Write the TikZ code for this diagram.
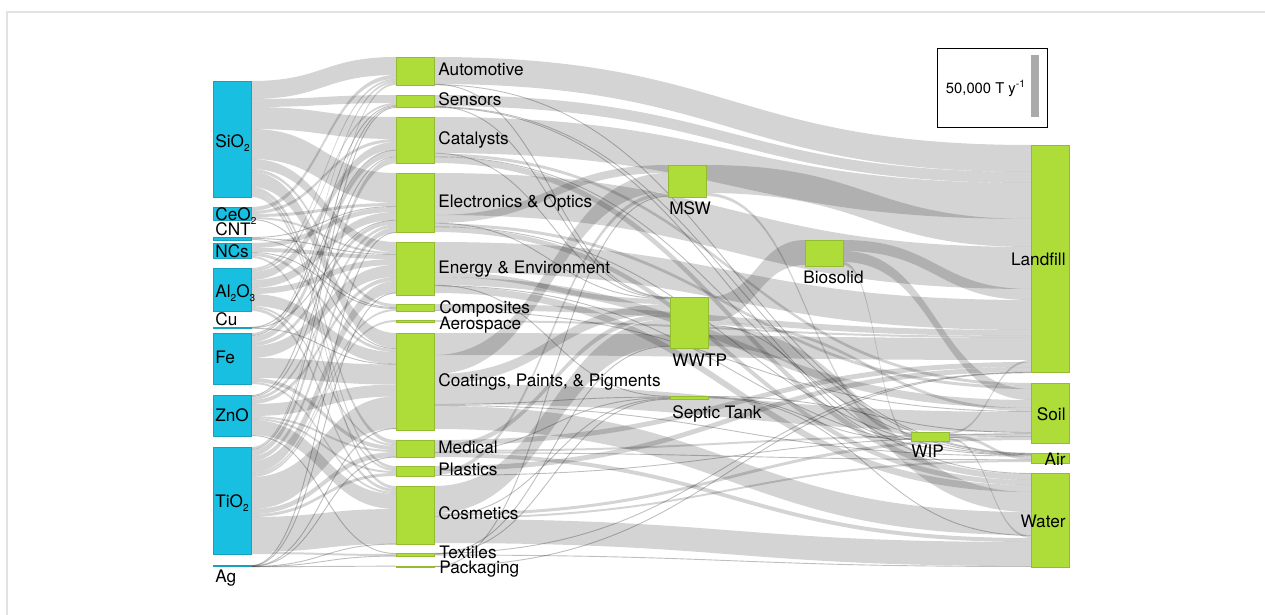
\documentclass[tikz,border=0pt]{standalone}
\usepackage{fontspec}
\setmainfont{TeX Gyre Heros}
\usetikzlibrary{positioning,calc}

\definecolor{matblue}{HTML}{19BFE0}
\definecolor{appgreen}{HTML}{AEDD3A}
\definecolor{scalegray}{HTML}{AAAAAA}
\definecolor{framegray}{HTML}{E2E2E2}

\pgfdeclarelayer{bg}
\pgfsetlayers{bg,main}

\tikzset{
  box/.style={rectangle, inner sep=0pt, outer sep=0pt, minimum width=19pt, anchor=north west, line width=0.3pt},
  mat/.style={box, fill=matblue, draw=matblue!85!black},
  app/.style={box, fill=appgreen, draw=appgreen!85!black},
  flow/.style={fill=black, fill opacity=0.17},
  thinflow/.style={draw=black, draw opacity=0.25, line width=0.45pt},
  lbl/.style={inner sep=0pt, font=\fontsize{8.6}{10}\selectfont, text height=1.5ex, text depth=0.1ex},
  applbl/.style={lbl, yshift=1.2pt},
}

% small low index, as in the chart
\newcommand\sub[1]{\raisebox{-0.45ex}{\fontsize{5}{6}\selectfont #1}}

% node: name, style, x, y, height (all in px)
\newcommand\mknode[5]{%
  \node[#2, minimum height=#5*0.5pt] (#1) at (#3,#4) {};
  \expandafter\gdef\csname o#1\endcsname{0}%
  \expandafter\gdef\csname i#1\endcsname{0}}

% band from node #1 to node #2, value #3
\newcommand\lnk[3]{%
  \edef\so{\csname o#1\endcsname}\edef\ti{\csname i#2\endcsname}%
  \coordinate (fa) at ($(#1.north east)+(0,\so)$);
  \coordinate (fb) at ($(#2.north west)+(0,\ti)$);
  \coordinate (fc) at ($(fb)+(0,#3)$);
  \coordinate (fd) at ($(fa)+(0,#3)$);
  \coordinate (fm) at ($(fa)!0.5!(fb)$);
  \begin{pgfonlayer}{bg}
    \fill[flow] (fa) .. controls (fm|-fa) and (fm|-fb) .. (fb) -- (fc)
      .. controls (fm|-fc) and (fm|-fd) .. (fd) -- cycle;
  \end{pgfonlayer}
  \pgfmathsetmacro\so{\so+#3}\pgfmathsetmacro\ti{\ti+#3}%
  \expandafter\xdef\csname o#1\endcsname{\so}%
  \expandafter\xdef\csname i#2\endcsname{\ti}}

% thin link drawn as a line
\newcommand\tln[3]{%
  \edef\so{\csname o#1\endcsname}\edef\ti{\csname i#2\endcsname}%
  \coordinate (fa) at ($(#1.north east)+(0,{\so+#3/2})$);
  \coordinate (fb) at ($(#2.north west)+(0,{\ti+#3/2})$);
  \coordinate (fm) at ($(fa)!0.5!(fb)$);
  \begin{pgfonlayer}{bg}
    \draw[thinflow] (fa) .. controls (fm|-fa) and (fm|-fb) .. (fb);
  \end{pgfonlayer}
  \pgfmathsetmacro\so{\so+#3}\pgfmathsetmacro\ti{\ti+#3}%
  \expandafter\xdef\csname o#1\endcsname{\so}%
  \expandafter\xdef\csname i#2\endcsname{\ti}}

\begin{document}
\begin{tikzpicture}[x=0.5pt,y=-0.5pt]
	\useasboundingbox (0,0) rectangle (1265,615);
	\draw[framegray, line width=1pt] (7,615) -- (7,12) -- (1265,12);

	% Materials
	\mknode{SiO2}{mat}{213}{81}{116}
	\mknode{CeO2}{mat}{213}{207}{13}
	\mknode{CNT}{mat}{213}{237}{3}
	\mknode{NCs}{mat}{213}{243}{15}
	\mknode{AlO}{mat}{213}{268}{43}
	\mknode{Cu}{mat}{213}{327}{1.5}
	\mknode{Fe}{mat}{213}{333}{51}
	\mknode{ZnO}{mat}{213}{395}{41}
	\mknode{TiO}{mat}{213}{447}{107}
	\mknode{Ag}{mat}{213}{565.5}{1}

	% Applications
	\mknode{auto}{app}{396}{57}{28}
	\mknode{sens}{app}{396}{95}{12}
	\mknode{cat}{app}{396}{117}{46}
	\mknode{elec}{app}{396}{173}{59}
	\mknode{ener}{app}{396}{242}{53}
	\mknode{comp}{app}{396}{304}{7}
	\mknode{aero}{app}{396}{320}{2}
	\mknode{coat}{app}{396}{333}{97}
	\mknode{med}{app}{396}{440}{17}
	\mknode{plas}{app}{396}{466}{10}
	\mknode{cosm}{app}{396}{486}{58}
	\mknode{text}{app}{396}{553}{3}
	\mknode{pack}{app}{396}{566}{1}

	% Treatment and sinks
	\mknode{msw}{app}{668}{165}{32}
	\mknode{wwtp}{app}{670}{297}{51}
	\mknode{septic}{app}{670}{396}{3}
	\mknode{bio}{app}{805}{240}{26}
	\mknode{wip}{app}{911}{432}{9}
	\mknode{landfill}{app}{1031}{145}{227}
	\mknode{soil}{app}{1031}{383}{60}
	\mknode{air}{app}{1031}{453}{10}
	\mknode{water}{app}{1031}{473}{94}

	% Materials to applications
	\lnk{SiO2}{auto}{18}\lnk{SiO2}{sens}{8}\lnk{SiO2}{cat}{22}\lnk{SiO2}{elec}{30}\lnk{SiO2}{ener}{10}
	\lnk{SiO2}{comp}{3}\lnk{SiO2}{coat}{15}\lnk{SiO2}{med}{4}\lnk{SiO2}{plas}{3}\lnk{SiO2}{cosm}{3}
	\lnk{CeO2}{auto}{4}\lnk{CeO2}{cat}{3}\lnk{CeO2}{elec}{3}\lnk{CeO2}{ener}{2}\tln{CeO2}{coat}{1}
	\tln{CNT}{elec}{1}\tln{CNT}{ener}{1}\tln{CNT}{comp}{1}
	\lnk{NCs}{elec}{5}\lnk{NCs}{ener}{4}\tln{NCs}{comp}{1}\lnk{NCs}{coat}{3}\lnk{NCs}{plas}{2}
	\lnk{AlO}{auto}{2}\lnk{AlO}{sens}{2}\lnk{AlO}{cat}{8}\lnk{AlO}{elec}{8}\lnk{AlO}{ener}{6}
	\lnk{AlO}{coat}{12}\lnk{AlO}{med}{2}\lnk{AlO}{cosm}{3}
	\tln{Cu}{cat}{0.5}\tln{Cu}{elec}{0.5}\tln{Cu}{coat}{0.5}
	\lnk{Fe}{auto}{2}\tln{Fe}{sens}{1}\lnk{Fe}{cat}{6}\lnk{Fe}{elec}{4}\lnk{Fe}{ener}{12}
	\lnk{Fe}{coat}{20}\lnk{Fe}{med}{4}\lnk{Fe}{cosm}{2}
	\tln{ZnO}{sens}{1}\tln{ZnO}{cat}{1}\lnk{ZnO}{elec}{3}\lnk{ZnO}{ener}{4}\lnk{ZnO}{coat}{12}
	\lnk{ZnO}{med}{2}\lnk{ZnO}{plas}{2}\lnk{ZnO}{cosm}{15}\tln{ZnO}{text}{1}
	\lnk{TiO}{auto}{2}\tln{TiO}{sens}{1}\lnk{TiO}{cat}{6}\lnk{TiO}{elec}{5}\lnk{TiO}{ener}{12}
	\lnk{TiO}{comp}{2}\lnk{TiO}{aero}{2}\lnk{TiO}{coat}{32}\lnk{TiO}{med}{5}\lnk{TiO}{plas}{3}
	\lnk{TiO}{cosm}{35}\lnk{TiO}{text}{2}
	\tln{Ag}{elec}{0.2}\tln{Ag}{ener}{0.2}\tln{Ag}{coat}{0.2}\tln{Ag}{med}{0.2}
	\tln{Ag}{cosm}{0.2}\tln{Ag}{text}{0.2}\tln{Ag}{pack}{0.2}

	% Applications and treatment to sinks
	\lnk{auto}{landfill}{27}\tln{auto}{wwtp}{0.5}\tln{auto}{air}{0.5}
	\lnk{sens}{landfill}{11}\tln{sens}{wwtp}{0.5}\tln{sens}{air}{0.5}\tln{sens}{water}{1}
	\lnk{cat}{landfill}{36}\tln{cat}{wwtp}{0.5}\lnk{cat}{soil}{3}\tln{cat}{air}{0.5}\lnk{cat}{water}{6}
	\lnk{msw}{landfill}{28}\lnk{msw}{wip}{3}
	\lnk{elec}{landfill}{42}\lnk{elec}{msw}{8}\tln{elec}{wwtp}{0.5}\lnk{elec}{soil}{3}
	\tln{elec}{air}{0.5}\lnk{elec}{water}{5}
	\lnk{bio}{landfill}{11}\lnk{bio}{soil}{11}\lnk{bio}{wip}{3}
	\lnk{ener}{landfill}{30}\lnk{ener}{wwtp}{5}\lnk{ener}{soil}{8}\tln{ener}{septic}{0.5}
	\tln{ener}{air}{0.5}\lnk{ener}{water}{7}
	\lnk{wwtp}{bio}{25}\lnk{wwtp}{soil}{3}\tln{wwtp}{wip}{1}\lnk{wwtp}{water}{20}
	\lnk{comp}{landfill}{6}\tln{comp}{soil}{1}
	\lnk{aero}{landfill}{2}
	\lnk{coat}{landfill}{22}\lnk{coat}{msw}{19}\lnk{coat}{wwtp}{10}\lnk{coat}{soil}{20}
	\tln{coat}{septic}{1}\tln{coat}{air}{1}\lnk{coat}{water}{23}
	\tln{septic}{soil}{1}\tln{septic}{wip}{0.5}\tln{septic}{water}{1}
	\lnk{wip}{landfill}{2}\tln{wip}{soil}{1}\lnk{wip}{air}{3}\lnk{wip}{water}{2}
	\lnk{med}{landfill}{5}\lnk{med}{wwtp}{5}\lnk{med}{soil}{2}\tln{med}{septic}{0.5}
	\tln{med}{air}{0.5}\lnk{med}{water}{4}
	\lnk{plas}{landfill}{5}\lnk{plas}{msw}{4}\tln{plas}{soil}{1}
	\lnk{cosm}{wwtp}{27}\lnk{cosm}{soil}{3}\tln{cosm}{septic}{1}\lnk{cosm}{air}{2}\lnk{cosm}{water}{24}
	\tln{text}{landfill}{0.5}\tln{text}{wwtp}{0.5}\tln{text}{septic}{0.5}\tln{text}{water}{1}
	\tln{pack}{landfill}{0.5}\tln{pack}{msw}{0.5}

	% Labels
	\node[lbl, anchor=west] (lSiO2) at (215,140) {SiO\sub{2}};
	\node[lbl, anchor=west] (lCeO2) at (215,213) {CeO\sub{2}};
	\node[lbl, anchor=west] (lCNT) at (215,228) {CNT};
	\node[lbl, anchor=west] (lNCs) at (215,250) {NCs};
	\node[lbl, anchor=west] (lAlO) at (215,290) {Al\sub{2}O\sub{3}};
	\node[lbl, anchor=west] (lCu) at (215,318) {Cu};
	\node[lbl, anchor=west] (lFe) at (215,356) {Fe};
	\node[lbl, anchor=west] (lZnO) at (215,414) {ZnO};
	\node[lbl, anchor=west] (lTiO) at (215,500) {TiO\sub{2}};
	\node[lbl, anchor=west] (lAg) at (215,575) {Ag};

	\node[applbl, right=2pt of auto] (lauto) {Automotive};
	\node[applbl, right=2pt of sens] (lsens) {Sensors};
	\node[applbl, right=2pt of cat] (lcat) {Catalysts};
	\node[applbl, right=2pt of elec] (lelec) {Electronics \& Optics};
	\node[applbl, right=2pt of ener] (lener) {Energy \& Environment};
	\node[lbl, anchor=west] (lcomp) at (439,306) {Composites};
	\node[lbl, anchor=west] (laero) at (439,322) {Aerospace};
	\node[applbl, right=2pt of coat] (lcoat) {Coatings, Paints, \& Pigments};
	\node[applbl, right=2pt of med] (lmed) {Medical};
	\node[applbl, right=2pt of plas] (lplas) {Plastics};
	\node[applbl, right=2pt of cosm] (lcosm) {Cosmetics};
	\node[lbl, anchor=west] (ltext) at (439,551) {Textiles};
	\node[lbl, anchor=west] (lpack) at (439,566) {Packaging};

	\node[lbl, anchor=west] (lmsw) at (669,207) {MSW};
	\node[lbl, anchor=west] (lwwtp) at (672,359) {WWTP};
	\node[lbl, anchor=west] (lseptic) at (672,411) {Septic Tank};
	\node[lbl, anchor=west] (lbio) at (803,276) {Biosolid};
	\node[lbl, anchor=west] (lwip) at (911,450) {WIP};
	\node[lbl, anchor=east] (llandfill) at ([xshift=-1.5pt]landfill.east) {Landfill};
	\node[lbl, anchor=east] (lsoil) at ([xshift=-1.5pt]soil.east) {Soil};
	\node[lbl, anchor=east] (lair) at ([xshift=-1.5pt]air.east) {Air};
	\node[lbl, anchor=east] (lwater) at ([xshift=-1.5pt]water.east) {Water};

	% Scale
	\node[draw, line width=0.6pt, inner sep=0pt, minimum width=55pt, minimum height=39.5pt, anchor=north west] (scale) at (937,48) {};
	\node[fill=scalegray, inner sep=0pt, minimum width=4pt, minimum height=31pt, anchor=north west] (scalebar) at (1031,55) {};
	\node[lbl, font=\fontsize{7.4}{9}\selectfont] (scaletext) at (986,86) {50,000 T y\textsuperscript{-1}};
\end{tikzpicture}
\end{document}
